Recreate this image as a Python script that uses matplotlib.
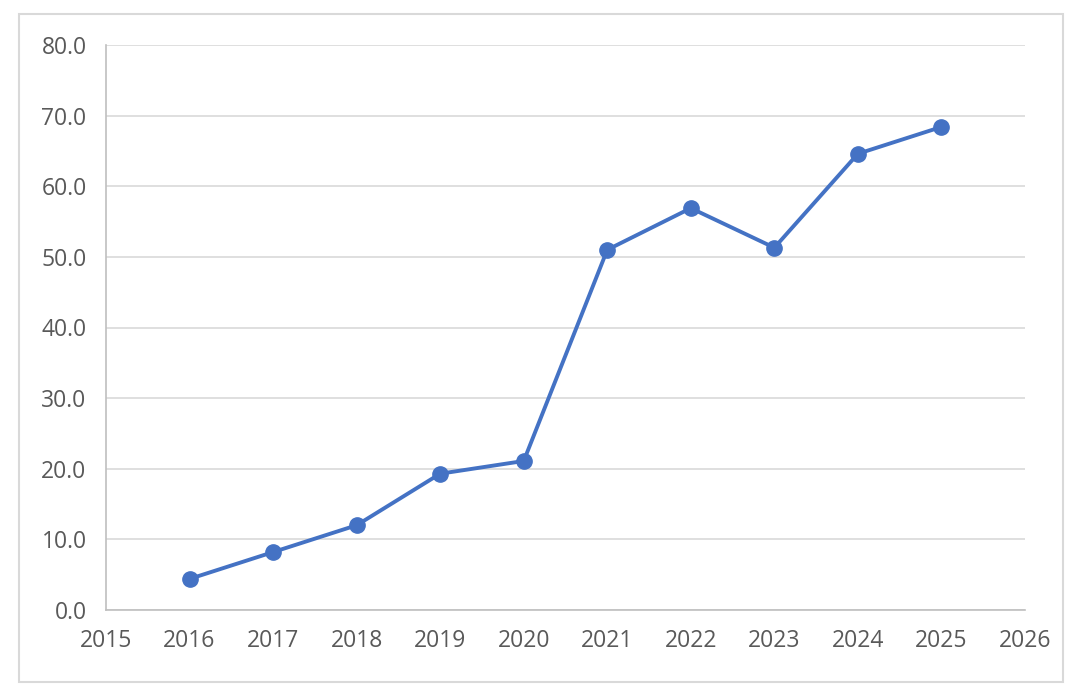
import matplotlib
matplotlib.use("Agg")
import matplotlib.pyplot as plt
from matplotlib.patches import Rectangle

years = [2016, 2017, 2018, 2019, 2020, 2021, 2022, 2023, 2024, 2025]
values = [4.4, 8.2, 12.0, 19.3, 21.1, 51.0, 56.9, 51.3, 64.6, 68.4]
x_ticks = list(range(2015, 2027))
y_ticks = [0, 10, 20, 30, 40, 50, 60, 70, 80]

plt.rcParams['font.family'] = ['Open Sans', 'DejaVu Sans']

fig = plt.figure(figsize=(10.8, 6.92), dpi=100)
fig.patches.append(Rectangle((19/1080, 1 - 682/692), (1063-19)/1080, (682-14)/692,
                             transform=fig.transFigure, fill=False,
                             edgecolor='#d9d9d9', linewidth=1.5))
ax = fig.add_axes([106/1080, 1 - 610/692, (1025-106)/1080, (610-45)/692])

ax.plot(years, values, color='#4472C4', linewidth=2.8, marker='o',
        markersize=11, zorder=3)

ax.set_xlim(2015, 2026)
ax.set_ylim(0, 80)
ax.set_xticks(x_ticks)
ax.set_yticks(y_ticks)
ax.set_yticklabels([f"{v:.1f}" for v in y_ticks])
ax.grid(axis='y', color='#d9d9d9', linewidth=1.2)
ax.set_axisbelow(True)
for s in ['top', 'right']:
    ax.spines[s].set_visible(False)
for s in ['left', 'bottom']:
    ax.spines[s].set_color('#bfbfbf')
    ax.spines[s].set_linewidth(1.2)
ax.tick_params(length=0, labelsize=16.5, colors='#595959')
ax.tick_params(axis='x', pad=14)
ax.tick_params(axis='y', pad=14)

fig.savefig('out.png', dpi=100)
